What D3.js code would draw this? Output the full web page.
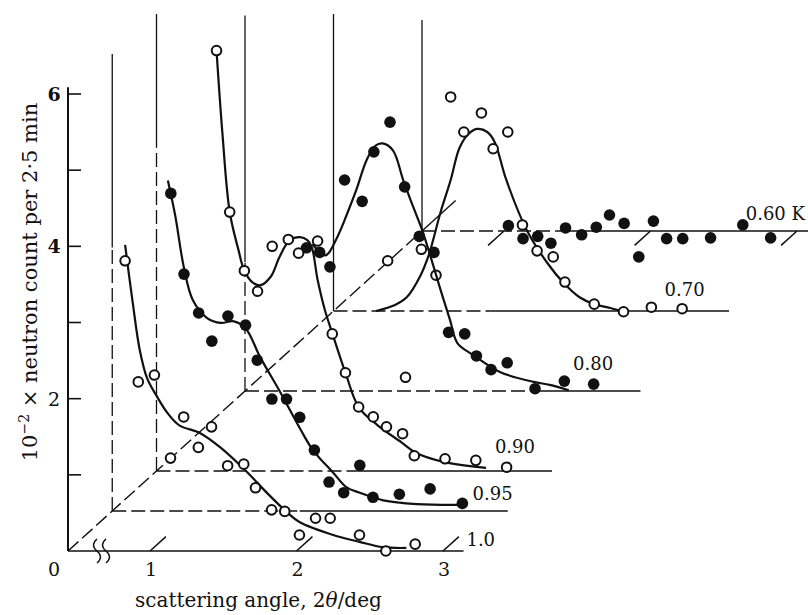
<!DOCTYPE html>
<html>
<head>
<meta charset="utf-8">
<script src="https://cdn.jsdelivr.net/npm/d3@7"></script>
<style>
  body { margin: 0; background: #fff; }
  text { font-family: "DejaVu Serif", "Liberation Serif", serif; fill: #111; }
</style>
</head>
<body>
<svg id="chart" width="808" height="615"></svg>
<script>
// temperatures, front plane first
const temperatures = [1.0, 0.95, 0.90, 0.80, 0.70, 0.60];
const tempLabels = ["1.0", "0.95", "0.90", "0.80", "0.70", "0.60 K"];
const filledMarker = [false, true, false, true, false, true];

// [scattering angle (deg), 10^-2 x count] measured from each plane's own baseline
const points100 = [[0.83,3.81],[0.92,2.22],[1.03,2.31],[1.14,1.22],[1.23,1.76],[1.33,1.36],[1.42,1.63],[1.53,1.12],[1.64,1.14],[1.72,0.83],[1.83,0.54],[1.92,0.52],[2.02,0.21],[2.13,0.43],[2.23,0.43],[2.43,0.21],[2.61,0.00],[2.81,0.09]];
const points095 = [[0.84,4.17],[0.93,3.11],[1.03,2.60],[1.12,2.23],[1.23,2.56],[1.35,2.44],[1.43,1.98],[1.53,1.47],[1.63,1.47],[1.72,1.23],[1.82,0.80],[1.92,0.38],[2.02,0.24],[2.13,0.60],[2.22,0.18],[2.40,0.22],[2.61,0.29],[2.83,0.10]];
const points090 = [[0.85,5.52],[0.94,3.40],[1.04,2.63],[1.13,2.36],[1.23,2.95],[1.34,3.04],[1.41,2.86],[1.54,3.02],[1.64,1.80],[1.73,1.29],[1.82,0.84],[1.92,0.71],[2.01,0.58],[2.12,0.49],[2.14,1.23],[2.20,0.20],[2.41,0.16],[2.62,0.14],[2.83,0.05]];
const points080 = [[0.86,1.88],[0.95,1.82],[1.02,1.63],[1.12,2.77],[1.24,2.49],[1.32,3.14],[1.43,3.53],[1.53,2.68],[1.63,2.03],[1.73,1.82],[1.83,0.77],[1.94,0.75],[2.02,0.46],[2.12,0.28],[2.23,0.37],[2.42,0.03],[2.62,0.13],[2.82,0.09]];
const points070 = [[0.81,0.66],[1.04,0.81],[1.14,0.47],[1.24,2.81],[1.33,2.35],[1.45,2.60],[1.53,2.13],[1.63,2.35],[1.73,1.13],[1.83,0.79],[1.94,0.71],[2.02,0.38],[2.22,0.09],[2.42,-0.01],[2.61,0.05],[2.82,0.03]];
const points060 = [[1.03,0.07],[1.13,-0.10],[1.23,-0.07],[1.32,-0.16],[1.42,0.04],[1.53,-0.05],[1.63,0.05],[1.72,0.21],[1.82,0.10],[1.92,-0.34],[2.02,0.13],[2.11,-0.10],[2.22,-0.10],[2.41,-0.09],[2.63,0.08],[2.82,-0.09]];

// hand-drawn fitted curves, traced
const fit100 = [[0.83,4.02],[0.88,3.29],[0.93,2.64],[0.98,2.27],[1.05,2.02],[1.12,1.81],[1.20,1.65],[1.34,1.55],[1.48,1.36],[1.65,1.06],[1.80,0.76],[1.94,0.50],[2.02,0.38],[2.25,0.21],[2.43,0.12],[2.59,0.05],[2.75,0.04]];
const fit095 = [[0.82,4.34],[0.87,3.88],[0.93,3.19],[0.99,2.77],[1.09,2.53],[1.18,2.47],[1.27,2.49],[1.35,2.40],[1.45,2.02],[1.59,1.55],[1.72,1.09],[1.81,0.80],[1.95,0.50],[2.04,0.31],[2.13,0.24],[2.29,0.14],[2.52,0.09],[2.80,0.08]];
const fit090 = [[0.85,5.52],[0.89,4.44],[0.94,3.40],[1.00,2.90],[1.04,2.63],[1.10,2.47],[1.15,2.44],[1.22,2.55],[1.28,2.81],[1.35,3.03],[1.42,3.07],[1.47,3.03],[1.50,2.94],[1.54,2.51],[1.59,2.11],[1.64,1.81],[1.73,1.29],[1.82,0.84],[1.95,0.60],[2.11,0.38],[2.21,0.24],[2.40,0.12],[2.69,0.04]];
const fit080 = [[0.90,1.93],[0.99,1.78],[1.07,2.02],[1.14,2.34],[1.20,2.64],[1.27,3.03],[1.33,3.22],[1.38,3.25],[1.45,3.16],[1.52,2.77],[1.59,2.41],[1.65,2.11],[1.70,1.81],[1.77,1.36],[1.84,0.93],[1.89,0.63],[2.00,0.47],[2.18,0.25],[2.41,0.12],[2.52,0.08],[2.65,0.01]];
const fit070 = [[0.73,0.00],[0.86,0.08],[0.94,0.18],[1.03,0.45],[1.09,0.73],[1.12,0.93],[1.17,1.29],[1.24,1.72],[1.30,2.14],[1.36,2.32],[1.42,2.39],[1.49,2.35],[1.54,2.22],[1.62,1.72],[1.76,1.06],[1.90,0.63],[2.01,0.37],[2.12,0.18],[2.22,0.09],[2.33,0.04],[2.42,-0.01]];
const fit060 = [];

const pointSets = [points100, points095, points090, points080, points070, points060];
const fitSets = [fit100, fit095, fit090, fit080, fit070, fit060];

const yTicks = [1, 2, 3, 4, 5, 6];
const yTickLabels = ["2", "4", "6"];
const xTicks = [1, 2, 3];

// per-plane drawing extents (angle / count units)
const baseDashEnd = [null, 1.72, 1.81, 2.39, 1.51, 1.36];
const axisTop = [6.09, 6.0, 6.0, 4.93, 3.9, 2.77];
const axisDashTop = [0, 3.46, 4.25, 1.69, 0, 0];
const labelAnchor = [[3.16,0.06],[2.90,0.14],[2.75,0.24],[2.68,0.28],[2.70,0.20],[2.65,0.14]];
const angleEnd = 3.14;

const svg = d3.select("#chart");
const xZero = 68;
const x = d3.scaleLinear().domain([1, 3]).range([150, 443]);
const y = d3.scaleLinear().domain([0, 6]).range([551, 94]);
const depthX = d3.scaleLinear().domain([1, 0.6]).range([0, 354]);
const depthY = d3.scaleLinear().domain([1, 0.6]).range([0, -320]);
const dash = "14,5";

// depth axis through all plane origins
svg.append("line")
  .attr("x1", xZero).attr("y1", y(0))
  .attr("x2", xZero + depthX(0.6)).attr("y2", y(0) + depthY(0.6))
  .attr("stroke", "#111").attr("stroke-width", 1.4).attr("stroke-dasharray", dash);
svg.append("line")
  .attr("x1", xZero + depthX(0.6)).attr("y1", y(0) + depthY(0.6))
  .attr("x2", xZero + depthX(0.562)).attr("y2", y(0) + depthY(0.562))
  .attr("stroke", "#111").attr("stroke-width", 1.4);

const line = d3.line().x(d => x(d[0])).y(d => y(d[1])).curve(d3.curveCatmullRom.alpha(0.5));
const tdx = depthX(0.982), tdy = depthY(0.982);

// draw back to front
for (let i = temperatures.length - 1; i >= 0; i--) {
  const t = temperatures[i];
  const g = svg.append("g").attr("transform", `translate(${depthX(t)},${depthY(t)})`);

  // vertical axis of the plane
  if (axisDashTop[i] > 0) {
    g.append("line").attr("x1", xZero).attr("x2", xZero)
      .attr("y1", y(0)).attr("y2", y(axisDashTop[i]))
      .attr("stroke", "#111").attr("stroke-width", 1.3).attr("stroke-dasharray", dash);
  }
  g.append("line").attr("x1", xZero).attr("x2", xZero)
    .attr("y1", y(axisDashTop[i])).attr("y2", y(axisTop[i]))
    .attr("stroke", "#111").attr("stroke-width", i === 0 ? 2 : 1.3);

  // baseline
  const solidFrom = baseDashEnd[i] === null ? xZero : x(baseDashEnd[i]);
  if (baseDashEnd[i] !== null) {
    g.append("line").attr("x1", xZero).attr("x2", solidFrom)
      .attr("y1", y(0)).attr("y2", y(0))
      .attr("stroke", "#111").attr("stroke-width", 1.4).attr("stroke-dasharray", dash);
  }
  g.append("line").attr("x1", solidFrom).attr("x2", x(angleEnd))
    .attr("y1", y(0)).attr("y2", y(0))
    .attr("stroke", "#111").attr("stroke-width", 1.6);

  // depth ticks on the front and back planes
  if (i === 0 || i === temperatures.length - 1) {
    const dir = i === 0 ? 1 : -1;
    g.selectAll("line.dtick").data(xTicks).enter().append("line")
      .attr("class", "dtick")
      .attr("x1", d => x(d)).attr("y1", y(0))
      .attr("x2", d => x(d) + dir * tdx).attr("y2", y(0) + dir * tdy)
      .attr("stroke", "#111").attr("stroke-width", 1.5);
  }

  // fitted curve
  if (fitSets[i].length) {
    g.append("path").datum(fitSets[i]).attr("d", line)
      .attr("fill", "none").attr("stroke", "#111").attr("stroke-width", 2.2);
  }

  // data points
  g.selectAll("circle").data(pointSets[i]).enter().append("circle")
    .attr("cx", d => x(d[0])).attr("cy", d => y(d[1]))
    .attr("r", filledMarker[i] ? 5.8 : 4.8)
    .attr("fill", filledMarker[i] ? "#111" : "#fff")
    .attr("stroke", "#111").attr("stroke-width", filledMarker[i] ? 0 : 2);

  // temperature label
  g.append("text")
    .attr("x", x(labelAnchor[i][0])).attr("y", y(labelAnchor[i][1]))
    .attr("font-size", 18)
    .text(tempLabels[i]);
}

// y ticks on front axis
svg.selectAll("line.ytick").data(yTicks).enter().append("line")
  .attr("class", "ytick")
  .attr("x1", xZero).attr("x2", xZero + 13)
  .attr("y1", d => y(d)).attr("y2", d => y(d))
  .attr("stroke", "#111").attr("stroke-width", 1.6);

svg.selectAll("text.ylab").data(yTickLabels).enter().append("text")
  .attr("class", "ylab")
  .attr("x", 54).attr("y", d => y(+d) + 7)
  .attr("text-anchor", "middle").attr("font-size", 19)
  .attr("font-weight", d => d === "2" ? "normal" : "bold")
  .text(d => d);

// x tick labels, plus origin
svg.append("text").attr("x", 54).attr("y", 576)
  .attr("text-anchor", "middle").attr("font-size", 19).text("0");
svg.selectAll("text.xlab").data(xTicks).enter().append("text")
  .attr("class", "xlab")
  .attr("x", d => x(d) + 1).attr("y", 576)
  .attr("text-anchor", "middle").attr("font-size", 19)
  .text(d => d);

// axis break marks
[29, 38].forEach(off => {
  const bx = xZero + off;
  svg.append("path")
    .attr("d", `M${bx},${y(0) - 12} q-7,6 0,12 t0,12`)
    .attr("fill", "none").attr("stroke", "#111").attr("stroke-width", 1.4);
});

// axis titles
const xt = svg.append("text").attr("x", 135).attr("y", 607).attr("font-size", 20);
xt.append("tspan").text("scattering angle, 2");
xt.append("tspan").attr("font-style", "italic").text("θ");
xt.append("tspan").text("/deg");

const yt = svg.append("text")
  .attr("transform", "translate(37,282) rotate(-90)")
  .attr("text-anchor", "middle").attr("font-size", 21);
yt.append("tspan").text("10");
yt.append("tspan").attr("font-size", 14).attr("dy", -8).text("−2");
yt.append("tspan").attr("dy", 8).text(" × neutron count per 2·5 min");
</script>
</body>
</html>
